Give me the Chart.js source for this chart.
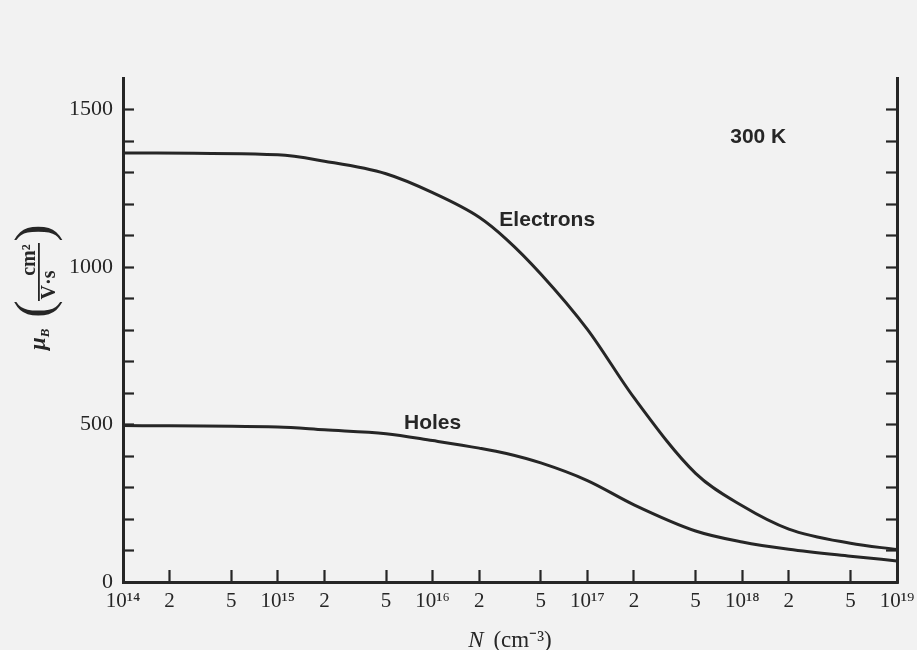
<!DOCTYPE html>
<html>
<head>
<meta charset="utf-8">
<script src="https://cdn.jsdelivr.net/npm/chart.js@4/dist/chart.umd.min.js"></script>
<style>
  html,body{margin:0;padding:0;background:#f2f2f2;}
  #wrap{width:917px;height:650px;}
</style>
</head>
<body>
<div id="wrap"><canvas id="grafico" width="917" height="650"></canvas></div>
<script>
// dados (Si, 300 K)
const densities = [1e14, 1e15, 2e15, 5e15, 1e16, 2e16, 3e16, 5e16, 1e17, 2e17, 5e17, 1e18, 2e18, 5e18, 1e19];
const electronMobility = [1362, 1356, 1336, 1296, 1236, 1158, 1088, 978, 802, 585, 345, 242, 168, 123, 103];
const holeMobility = [497, 492, 483, 471, 449, 425, 408, 378, 322, 245, 162, 127, 104, 82, 67];

const xTickValues = [1e14, 2e14, 5e14, 1e15, 2e15, 5e15, 1e16, 2e16, 5e16, 1e17, 2e17, 5e17, 1e18, 2e18, 5e18, 1e19];
const xTickLabels = ['10¹⁴', '2', '5', '10¹⁵', '2', '5', '10¹⁶', '2', '5', '10¹⁷', '2', '5', '10¹⁸', '2', '5', '10¹⁹'];
const yTickValues = [0, 100, 200, 300, 400, 500, 600, 700, 800, 900, 1000, 1100, 1200, 1300, 1400, 1500];
const yTickLabels = ['0', '', '', '', '', '500', '', '', '', '', '1000', '', '', '', '', '1500'];

// rótulos das curvas, em coordenadas dos dados
const curveLabels = ['Electrons', 'Holes', '300 K'];
const curveLabelN = [5.5e16, 1e16, 1.27e18];
const curveLabelMu = [1147, 505, 1411];

const INK = '#262626';
const serif = '"Liberation Serif", "Times New Roman", serif';

const anotacoes = {
  id: 'anotacoes',
  afterDraw(chart) {
    const { ctx, scales: { x, y } } = chart;
    ctx.save();
    ctx.fillStyle = INK;

    // rótulos das curvas
    ctx.font = 'bold 21px "Liberation Sans", Arial, sans-serif';
    ctx.textAlign = 'center';
    ctx.textBaseline = 'middle';
    curveLabels.forEach((t, i) => {
      ctx.fillText(t, x.getPixelForValue(curveLabelN[i]), y.getPixelForValue(curveLabelMu[i]));
    });

    // título do eixo x: N (cm⁻³)
    const cx = (chart.chartArea.left + chart.chartArea.right) / 2;
    ctx.textBaseline = 'alphabetic';
    ctx.textAlign = 'left';
    ctx.font = `italic 23px ${serif}`;
    const wN = ctx.measureText('N').width;
    ctx.font = `23px ${serif}`;
    const resto = ' (cm⁻³)';
    const wR = ctx.measureText(resto).width;
    let x0 = cx - (wN + 4 + wR) / 2;
    ctx.font = `italic 23px ${serif}`;
    ctx.fillText('N', x0, 647);
    ctx.font = `23px ${serif}`;
    ctx.fillText(resto, x0 + wN + 4, 647);

    // título do eixo y: μB (cm² / V·s), rodado
    ctx.translate(39, 272);
    ctx.rotate(-Math.PI / 2);
    ctx.font = `italic bold 23px ${serif}`;
    ctx.fillText('μ', -78, 6);
    const wMu = ctx.measureText('μ').width;
    ctx.font = `italic bold 13px ${serif}`;
    ctx.fillText('B', -78 + wMu, 10);
    ctx.font = `52px ${serif}`;
    ctx.textAlign = 'center';
    ctx.textBaseline = 'middle';
    ctx.fillText('(', -37, -2);
    ctx.fillText(')', 39, -2);
    ctx.font = `bold 20px ${serif}`;
    ctx.textBaseline = 'alphabetic';
    ctx.fillText('cm²', 12, -4);
    ctx.fillText('V·s', -13, 16);
    ctx.fillRect(-29, -1, 58, 1.8);
    ctx.restore();
  }
};

const eixoY = (pos, mostrar) => ({
  type: 'linear', position: pos, min: 0, max: 1600,
  afterBuildTicks: s => { s.ticks = yTickValues.map(v => ({ value: v })); },
  afterFit: s => { s.width = pos === 'left' ? 123 : 20; s.paddingTop = 0; s.paddingBottom = 0; },
  border: { display: true, color: INK, width: 3 },
  grid: { drawOnChartArea: false, drawTicks: true, tickLength: -11, tickWidth: 2.2, tickColor: INK },
  ticks: {
    display: mostrar, padding: 21, color: INK,
    font: { family: serif, size: 22 },
    callback: (v, i) => yTickLabels[i]
  }
});

new Chart(document.getElementById('grafico').getContext('2d'), {
  type: 'line',
  data: {
    datasets: [
      { label: 'Electrons', data: densities.map((n, i) => ({ x: n, y: electronMobility[i] })),
        borderColor: INK, borderWidth: 3, pointRadius: 0, cubicInterpolationMode: 'monotone', fill: false, yAxisID: 'y' },
      { label: 'Holes', data: densities.map((n, i) => ({ x: n, y: holeMobility[i] })),
        borderColor: INK, borderWidth: 3, pointRadius: 0, cubicInterpolationMode: 'monotone', fill: false, yAxisID: 'y' }
    ]
  },
  options: {
    responsive: false, animation: false, devicePixelRatio: 1,
    layout: { padding: { top: 78, right: 0, bottom: 0, left: 0 } },
    plugins: { legend: { display: false }, tooltip: { enabled: false } },
    scales: {
      x: {
        type: 'logarithmic', position: 'bottom', min: 1e14, max: 1e19,
        afterBuildTicks: s => { s.ticks = xTickValues.map(v => ({ value: v })); },
        afterFit: s => { s.height = 68; s.paddingLeft = 0; s.paddingRight = 0; },
        border: { display: true, color: INK, width: 3 },
        grid: { drawOnChartArea: false, drawTicks: true, tickLength: -12, tickWidth: 2.2, tickColor: INK },
        ticks: {
          autoSkip: false, maxRotation: 0, padding: 19, color: INK,
          font: { family: serif, size: 21 },
          callback: (v, i) => xTickLabels[i]
        }
      },
      y: eixoY('left', true),
      y2: eixoY('right', false)
    }
  },
  plugins: [anotacoes]
});
</script>
</body>
</html>
